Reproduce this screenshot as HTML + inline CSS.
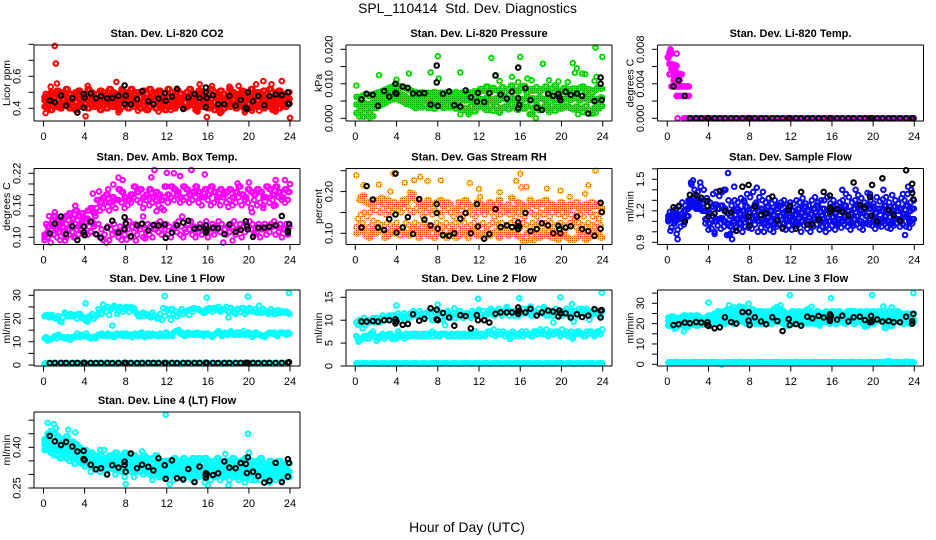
<!DOCTYPE html>
<html lang="en">
<head>
<meta charset="utf-8">
<title>SPL_110414 Std. Dev. Diagnostics</title>
<style>
html,body{margin:0;padding:0;background:#fff;}
svg{display:block;}
text{font-family:"Liberation Sans",sans-serif;fill:#000;}
.main{font-size:13.9px;}
.ttl{font-size:11px;font-weight:bold;}
.tick{font-size:11px;}
.ylab{font-size:10.5px;}
</style>
</head>
<body>
<svg id="chart" xmlns="http://www.w3.org/2000/svg" width="936" height="540" viewBox="0 0 936 540">
<defs>
<pattern id="ditherGreen" patternUnits="userSpaceOnUse" width="2" height="2"><rect width="2" height="2" fill="#00f400"/><rect width="1" height="1" fill="#00a000"/></pattern>
<pattern id="ditherOrange" patternUnits="userSpaceOnUse" width="2" height="2"><rect width="2" height="2" fill="#ffc800"/><rect width="1" height="1" fill="#f04000"/></pattern>
</defs>
<text class="main" x="467.5" y="13" text-anchor="middle">SPL_110414&#160; Std. Dev. Diagnostics</text>
<text class="main" x="467" y="532" text-anchor="middle">Hour of Day (UTC)</text>
</svg>
<script>
const hoursA=[0.1,0.4,0.7,1.0,1.3,1.6,1.9,2.2,2.5,2.8,3.1,3.4,3.7,4.0,4.3,4.6,4.9,5.2,5.5,5.8,6.1,6.4,6.7,7.0,7.3,7.6,7.9,8.2,8.5,8.8,9.1,9.4,9.7,10.0,10.3,10.6,10.9,11.2,11.5,11.8,12.1,12.4,12.7,13.0,13.3,13.6,13.9,14.2,14.5,14.8,15.1,15.4,15.7,16.0,16.3,16.6,16.9,17.2,17.5,17.8,18.1,18.4,18.7,19.0,19.3,19.6,19.9,20.2,20.5,20.8,21.1,21.4,21.7,22.0,22.3,22.6,22.9,23.2,23.5,23.8];
const hoursB=[0.25,0.55,0.85,1.15,1.45,1.75,2.05,2.35,2.65,2.95,3.25,3.55,3.85,4.15,4.45,4.75,5.05,5.35,5.65,5.95,6.25,6.55,6.85,7.15,7.45,7.75,8.05,8.35,8.65,8.95,9.25,9.55,9.85,10.15,10.45,10.75,11.05,11.35,11.65,11.95,12.25,12.55,12.85,13.15,13.45,13.75,14.05,14.35,14.65,14.95,15.25,15.55,15.85,16.15,16.45,16.75,17.05,17.35,17.65,17.95,18.25,18.55,18.85,19.15,19.45,19.75,20.05,20.35,20.65,20.95,21.25,21.55,21.85,22.15,22.45,22.75,23.05,23.35,23.65,23.95];
const blackHours=[0.6,1.1,1.7,2.2,2.8,3.3,3.9,3.9,4.0,4.6,5.1,5.6,6.2,6.7,7.3,7.9,7.9,8.0,8.5,9.1,9.6,10.2,10.7,11.2,11.8,11.9,12.5,13.0,13.6,14.1,14.7,15.2,15.8,15.8,15.8,15.9,16.5,17.0,17.6,18.1,18.7,19.2,19.7,19.8,19.9,20.4,20.9,21.5,22.0,22.6,23.2,23.8,23.8,23.9];
const xTicks=[0,4,8,12,16,20,24];

/* Li-820 CO2 */
const co2High=[.47,.48,.50,.49,.51,.50,.48,.52,.49,.47,.50,.51,.49,.48,.52,.50,.47,.49,.51,.50,.48,.52,.50,.49,.47,.51,.50,.48,.52,.49,.50,.47,.51,.49,.52,.48,.50,.51,.47,.49,.52,.50,.48,.51,.49,.47,.50,.52,.49,.48,.51,.50,.47,.49,.52,.50,.48,.51,.49,.47,.52,.50,.49,.48,.51,.50,.47,.52,.49,.50,.48,.51,.49,.52,.47,.50,.51,.49,.48,.50];
const co2Mid=[.45,.46,.44,.47,.45,.43,.46,.44,.45,.47,.44,.46,.45,.43,.47,.45,.44,.46,.47,.44,.45,.47,.43,.46,.45,.44,.47,.45,.46,.43,.45,.47,.44,.46,.45,.43,.47,.46,.44,.45,.47,.44,.46,.45,.43,.46,.47,.44,.45,.46,.44,.47,.45,.43,.46,.44,.47,.45,.46,.44,.47,.45,.43,.46,.44,.47,.45,.46,.43,.45,.47,.44,.46,.45,.43,.46,.44,.47,.45,.46];
const co2Low=[.41,.42,.39,.43,.41,.40,.42,.43,.40,.41,.39,.42,.41,.43,.40,.42,.41,.43,.39,.42,.40,.43,.41,.42,.39,.41,.43,.40,.42,.41,.43,.40,.42,.39,.41,.43,.40,.42,.41,.39,.43,.41,.40,.42,.43,.40,.41,.43,.42,.39,.42,.41,.43,.40,.42,.39,.41,.38,.40,.42,.41,.43,.40,.42,.41,.39,.43,.40,.42,.41,.43,.40,.42,.41,.39,.43,.40,.42,.41,.43];
const co2OutHours=[1.1,1.2,1.3,0.7,0.2,4.1,4.3,7.1,7.6,8.6,15.2,16.4,15.9,18.1,19,20.7,21.4,22.2,23.2,24,22.6,19.6,17.2,7.3,9.2,11.2,12.4,15,10.2,20.3,21,0.2];
const co2OutValues=[.79,.68,.555,.535,.37,.35,.54,.565,.52,.52,.55,.54,.345,.535,.54,.55,.57,.55,.57,.34,.38,.375,.37,.375,.385,.38,.39,.38,.39,.385,.385,.49];
const co2Black=[.448,.438,.48,.417,.463,.373,.404,.49,.467,.493,.463,.476,.463,.465,.478,.543,.427,.48,.425,.457,.507,.444,.425,.461,.495,.446,.474,.522,.396,.467,.49,.465,.53,.5,.406,.465,.482,.425,.425,.478,.417,.453,.404,.396,.5,.444,.476,.419,.476,.486,.482,.43,.5,.427];
const co2Ticks=[.4,.5,.6,.7,.8];
const co2Labels=["0.4",null,"0.6",null,null];

/* Li-820 Pressure */
const kpaHigh=[.0062,.0058,.0066,.0070,.0064,.0068,.0072,.0075,.0078,.0082,.0086,.0090,.0093,.0095,.0092,.0090,.0086,.0082,.0078,.0076,.0072,.0075,.0070,.0074,.0072,.0076,.0070,.0074,.0072,.0075,.0072,.0070,.0076,.0072,.0074,.0070,.0075,.0072,.0078,.0074,.0085,.0080,.0092,.0076,.0088,.0082,.0078,.0090,.0076,.0084,.0095,.0082,.0078,.0088,.0094,.0076,.0085,.0080,.0090,.0078,.0084,.0092,.0078,.0086,.0095,.0080,.0076,.0088,.0084,.0078,.0086,.0080,.0088,.0092,.0078,.0084,.0075,.0082,.0090,.0086];
const kpaMid=[.0040,.0036,.0045,.0042,.0038,.0044,.0050,.0056,.0062,.0066,.0070,.0074,.0072,.0076,.0070,.0066,.0060,.0056,.0052,.0055,.0050,.0054,.0052,.0056,.0050,.0054,.0050,.0056,.0052,.0055,.0050,.0054,.0058,.0050,.0056,.0052,.0054,.0058,.0050,.0055,.0056,.0052,.0060,.0055,.0050,.0058,.0054,.0062,.0056,.0052,.0060,.0054,.0058,.0050,.0056,.0062,.0052,.0058,.0054,.0060,.0056,.0052,.0060,.0058,.0054,.0062,.0050,.0056,.0060,.0054,.0058,.0062,.0052,.0056,.0060,.0054,.0058,.0050,.0056,.0060];
const kpaLow=[.0015,.0022,.0005,.0025,.0018,.0006,.0030,.0036,.0040,.0045,.0050,.0056,.0055,.0060,.0052,.0048,.0042,.0040,.0036,.0030,.0036,.0032,.0040,.0030,.0035,.0028,.0040,.0036,.0030,.0038,.0032,.0038,.0028,.0034,.0024,.0030,.0018,.0036,.0020,.0032,.0034,.0030,.0024,.0038,.0022,.0036,.0018,.0030,.0034,.0026,.0040,.0032,.0025,.0036,.0028,.0034,.0012,.0030,.0038,.0024,.0030,.0036,.0025,.0038,.0022,.0034,.0028,.0032,.0036,.0030,.0026,.0034,.0030,.0018,.0036,.0024,.0014,.0032,.0028,.0036];
const kpaOutHours=[.1,2.3,4.0,5.2,7.3,8.0,8.1,10.2,13.2,13.6,14,15.2,15.8,16,16.7,17.1,18.2,18.8,19.7,20.6,21.1,21.3,21.5,22,22.3,23.2,23.3,23.4,23.95,.4,1.4,17.5,17.2,18.8,21.6,10.2,11,23.3,14];
const kpaOutValues=[.0095,.0125,.0112,.013,.0133,.018,.0115,.0133,.0175,.0125,.0108,.012,.0105,.0178,.0115,.011,.0158,.011,.0107,.0105,.016,.0132,.0145,.013,.0128,.0108,.0205,.012,.0178,.0005,.0003,.0001,.0015,.0018,.0012,.0012,.0012,.0015,.0016];
const kpaBlack=[.0055,.0071,.0068,.0036,.0079,.0063,.01,.0074,.0071,.0092,.0088,.0072,.0072,.0073,.004,.0153,.0104,.0036,.0071,.0078,.0038,.0034,.0081,.0061,.0048,.0074,.0047,.0073,.0124,.0069,.0057,.0077,.0147,.0058,.0029,.0039,.0087,.0053,.0031,.0024,.0071,.0065,.0071,.0061,.0053,.0077,.0068,.0072,.0065,.0014,.005,.0118,.01,.0053];
const kpaTicks=[0,.005,.01,.015,.02];
const kpaLabels=["0.000",null,"0.010",null,"0.020"];

/* Li-820 Temperature */
const tempZeroA=[null,null,null,0,null,0,0,0,0,0,0,0,0,0,0,0,0,0,0,0,0,0,0,0,0,0,0,0,0,0,0,0,0,0,0,0,0,0,0,0,0,0,0,0,0,0,0,0,0,0,0,0,0,0,0,0,0,0,0,0,0,0,0,0,0,0,0,0,0,0,0,0,0,0,0,0,0,0,0,0];
const tempZeroB=[null,null,null,null,null,0,0,0,0,0,0,0,0,0,0,0,0,0,0,0,0,0,0,0,0,0,0,0,0,0,0,0,0,0,0,0,0,0,0,0,0,0,0,0,0,0,0,0,0,0,0,0,0,0,0,0,0,0,0,0,0,0,0,0,0,0,0,0,0,0,0,0,0,0,0,0,0,0,0,0];
const tempOutHours=[.3,.35,.2,.25,.15,.1,.45,.9,.05,.2,.4,.5,.6,.7,.8,.9,.4,.5,.6,.7,.8,.2,.3,.6,.7,.9,1.0,1.1,1.2,1.3,1.4,.6,.7,.8,.9,1.0,1.1,1.2,.4,.6,.8,.9,1.0,1.1,1.2,1.3,1.4,1.5,1.6,1.7,1.8,1.9,2.0,2.1,.9,1.0,1.2,1.4,1.6,1.8,2.0,2.1];
const tempOutValues=[.008,.0078,.0076,.0074,.0072,.007,.0075,.0075,.0071,.0063,.0063,.0062,.0062,.0062,.0061,.0061,.0057,.0057,.0057,.0056,.0056,.0051,.0051,.0051,.0051,.0051,.0051,.0051,.0051,.0051,.0051,.0044,.0044,.0044,.0044,.0044,.0044,.0044,.0037,.0037,.0037,.0037,.0037,.0037,.0037,.0037,.0037,.0037,.0037,.0037,.0037,.0037,.0037,.0037,.0026,.0026,.0026,.0026,.0026,.0026,.0026,.0026];
const tempBlack=[.0037,.0044,.0026,0,0,0,0,0,0,0,0,0,0,0,0,0,0,0,0,0,0,0,0,0,0,0,0,0,0,0,0,0,0,0,0,0,0,0,0,0,0,0,0,0,0,0,0,0,0,0,0,0,0,0];
const tempTicks=[0,.002,.004,.006,.008];
const tempLabels=["0.000",null,"0.004",null,"0.008"];

/* Ambient Box Temperature */
const ambTop=[.105,.12,.125,.14,.13,.125,.135,.14,.145,.135,.15,.14,.145,.135,.15,.155,.145,.17,.165,.175,.18,.165,.175,.17,.19,.185,.175,.17,.18,.195,.185,.19,.175,.18,.19,.175,.185,.18,.17,.195,.18,.195,.19,.185,.175,.195,.19,.18,.185,.195,.185,.175,.19,.18,.195,.185,.175,.19,.18,.185,.19,.175,.185,.195,.18,.175,.19,.185,.18,.19,.185,.175,.195,.19,.18,.195,.185,.175,.19,.185];
const ambUpper=[.10,.11,.105,.12,.115,.11,.12,.125,.115,.12,.125,.12,.13,.12,.135,.13,.125,.155,.15,.155,.165,.15,.16,.155,.17,.165,.155,.16,.165,.175,.17,.165,.155,.17,.16,.165,.17,.16,.155,.175,.165,.175,.17,.18,.165,.17,.175,.165,.17,.175,.165,.16,.175,.17,.16,.165,.17,.16,.175,.165,.17,.16,.165,.175,.16,.17,.165,.155,.17,.16,.165,.16,.175,.165,.17,.16,.175,.17,.165,.17];
const ambLower=[.125,.14,.13,.115,.12,.13,.105,.115,.125,.10,.115,.125,.135,.13,.12,.13,.14,.125,.115,.105,.12,.115,.125,.11,.12,.115,.125,.13,.12,.125,.12,.125,.115,.125,.12,.115,.125,.13,.12,.125,.12,.115,.125,.13,.12,.115,.125,.13,.12,.115,.125,.12,.13,.115,.125,.12,.13,.125,.115,.12,.125,.13,.115,.125,.12,.125,.13,.125,.115,.125,.115,.125,.12,.125,.13,.12,.125,.115,.125,.12];
const ambBottom=[.095,.10,.09,.105,.10,.095,.11,.10,.105,.11,.10,.105,.115,.11,.105,.11,.12,.105,.10,.095,.09,.095,.105,.11,.10,.095,.105,.115,.10,.11,.105,.115,.10,.11,.105,.10,.115,.11,.105,.115,.105,.10,.115,.11,.105,.10,.11,.115,.105,.10,.11,.105,.115,.10,.11,.105,.115,.11,.09,.105,.11,.12,.105,.115,.10,.11,.12,.115,.105,.11,.10,.115,.105,.11,.12,.105,.11,.10,.115,.105];
const ambOutHours=[7.3,7.7,6.8,6.3,4.8,5.4,10.8,10.5,12,12.7,13.3,14.4,15.7,18.9,20,22.6,23.5,24,20.3,21.4,22.4,18,11,11.7,9.7,13.5,3.1,1.1,18.4,9,2.1,8.1,9.9];
const ambOutValues=[.212,.2075,.199,.19,.182,.186,.226,.2125,.221,.22,.215,.226,.218,.201,.203,.2075,.2075,.2,.147,.155,.159,.157,.149,.151,.139,.139,.159,.147,.094,.094,.094,.096,.098];
const ambBlack=[.1075,.1256,.139,.106,.121,.095,.109,.12,.104,.129,.106,.099,.118,.131,.109,.1375,.115,.126,.102,.1225,.1256,.1125,.123,.122,.124,.099,.109,.1225,.1275,.131,.116,.118,.1225,.109,.113,.115,.118,.117,.106,.124,.11,.114,.13,.121,.115,.101,.118,.118,.12,.1225,.14,.1125,.109,.125];
const ambTicks=[.10,.12,.14,.16,.18,.20,.22];
const ambLabels=["0.10",null,null,"0.16",null,null,"0.22"];

/* Gas Stream RH */
const rhBottom=[.10,.105,.11,.095,.09,.105,.10,.11,.105,.09,.095,.105,.10,.11,.095,.105,.10,.095,.11,.105,.09,.10,.105,.095,.11,.09,.10,.105,.095,.09,.10,.105,.09,.095,.105,.10,.09,.105,.11,.095,.10,.09,.105,.095,.10,.105,.09,.10,.105,.095,.10,.105,.095,.09,.08,.10,.085,.105,.095,.09,.10,.095,.105,.09,.10,.085,.095,.105,.09,.085,.085,.09,.105,.095,.085,.09,.105,.095,.10,.09];
const rhLower=[.115,.12,.125,.11,.115,.12,.11,.125,.12,.115,.125,.12,.115,.125,.11,.115,.125,.12,.11,.125,.12,.115,.125,.12,.115,.11,.125,.12,.115,.125,.115,.12,.125,.11,.12,.125,.115,.12,.125,.115,.12,.125,.115,.12,.125,.13,.12,.125,.115,.12,.125,.13,.12,.115,.125,.12,.115,.125,.12,.125,.115,.125,.12,.125,.115,.12,.125,.12,.115,.125,.12,.115,.125,.12,.115,.125,.12,.115,.125,.12];
const rhUpper=[.135,.145,.15,.14,.15,.13,.155,.15,.16,.145,.155,.15,.16,.155,.15,.16,.165,.155,.15,.16,.155,.14,.15,.16,.145,.155,.15,.14,.155,.16,.15,.14,.155,.145,.14,.16,.15,.145,.14,.15,.155,.145,.16,.15,.14,.155,.145,.15,.155,.145,.155,.14,.15,.145,.14,.155,.15,.145,.14,.15,.145,.155,.14,.15,.155,.145,.15,.14,.155,.145,.135,.15,.145,.14,.155,.15,.14,.145,.135,.15];
const rhTop=[null,.18,.19,.175,.17,.165,.18,.175,.185,.17,.18,.165,.175,.165,.17,.18,.175,.185,.195,.18,.175,.17,.165,.18,.17,null,.175,.18,.165,.175,.17,null,.16,.175,.165,.18,.17,.165,.16,.175,.17,.16,.165,.175,.16,.17,.18,.165,.16,.17,.185,.16,.175,.17,.16,.165,.18,.17,.165,.175,.17,.18,.16,.17,.165,.16,.175,.165,.16,.17,.165,.175,.16,.165,.17,.16,.175,.165,.17,.16];
const rhOutHours=[.1,.8,2.3,3.7,4.8,5.7,6.3,7,8.3,11.1,12,12.1,14,15.6,16,16.1,16.6,18.6,19.9,20.8,22.6,23.3,22.3,17.3,3.4,5.3,.5];
const rhOutValues=[.239,.215,.217,.243,.221,.227,.235,.225,.227,.22,.206,.187,.199,.225,.243,.21,.211,.207,.202,.187,.215,.25,.195,.083,.2,.198,.187];
const rhBlack=[.114,.213,.181,.114,.108,.134,.145,.243,.102,.114,.139,.098,.182,.133,.119,.17,.149,.111,.096,.094,.1,.135,.149,.1,.17,.116,.087,.098,.158,.115,.119,.115,.126,.117,.11,.116,.149,.105,.11,.124,.119,.1,.118,.11,.1,.114,.117,.14,.11,.105,.094,.173,.111,.151];
const rhTicks=[.10,.15,.20,.25];
const rhLabels=["0.10",null,"0.20",null];

/* Sample Flow */
const flowA=[1.19,1.2,1.22,1.25,1.28,1.25,1.3,1.45,1.4,1.38,1.43,1.4,1.32,1.28,1.36,1.38,1.34,1.38,1.4,1.3,1.25,1.3,1.28,1.32,1.3,1.36,1.33,1.38,1.28,1.33,1.3,1.28,1.32,1.27,1.3,1.25,1.28,1.3,1.26,1.28,1.27,1.3,1.28,1.32,1.27,1.25,1.3,1.33,1.28,1.3,1.3,1.33,1.27,1.3,1.25,1.28,1.3,1.36,1.33,1.28,1.3,1.35,1.32,1.28,1.37,1.3,1.27,1.33,1.29,1.31,1.33,1.28,1.35,1.3,1.27,1.32,1.3,1.36,1.28,1.3];
const flowB=[1.15,1.16,1.18,1.14,1.17,1.2,1.22,1.3,1.33,1.28,1.3,1.27,1.2,1.18,1.24,1.26,1.22,1.25,1.22,1.18,1.15,1.2,1.22,1.17,1.2,1.24,1.18,1.22,1.26,1.2,1.22,1.18,1.24,1.2,1.16,1.22,1.25,1.18,1.2,1.24,1.2,1.16,1.22,1.18,1.24,1.2,1.17,1.22,1.25,1.19,1.22,1.17,1.2,1.24,1.18,1.22,1.2,1.25,1.2,1.17,1.22,1.26,1.2,1.18,1.25,1.22,1.24,1.18,1.22,1.2,1.25,1.2,1.18,1.24,1.2,1.22,1.17,1.25,1.2,1.22];
const flowC=[1.12,1.13,1.1,1.12,1.14,1.12,1.15,1.24,1.26,1.22,1.22,1.2,1.12,1.08,1.15,1.1,1.12,1.13,1.1,1.08,1.05,1.1,1.12,1.08,1.12,1.14,1.1,1.13,1.15,1.1,1.12,1.08,1.14,1.1,1.07,1.12,1.15,1.08,1.12,1.14,1.1,1.08,1.13,1.1,1.15,1.1,1.08,1.13,1.15,1.1,1.12,1.06,1.1,1.14,1.08,1.12,1.1,1.15,1.1,1.08,1.12,1.15,1.1,1.08,1.15,1.12,1.14,1.08,1.12,1.1,1.15,1.1,1.08,1.13,1.12,1.1,1.14,1.15,1.1,1.12];
const flowD=[1.1,1.04,1.08,1.02,1.05,1.07,null,null,null,null,null,null,1.08,1.02,1.03,1.0,1.06,1.03,1.05,.97,.98,1.02,1.04,1.03,1.0,1.05,1.04,1.03,1.07,1.0,1.04,1.0,1.06,1.02,1.0,1.05,1.07,1.03,1.02,1.06,1.02,1.05,1.07,1.0,1.06,1.03,1.0,1.05,1.07,1.02,1.05,1.0,1.03,1.06,1.02,1.07,1.04,1.07,1.05,1.02,1.06,1.07,1.04,1.02,1.08,1.07,1.06,1.03,1.06,1.05,1.08,1.04,1.03,1.06,1.08,1.05,1.07,1.05,1.04,1.08];
const flowOutHours=[5.9,8.7,9.3,1,6.3,6,4.6,.3,.9,23.1,23.7,23.4,6.5,5.5,17,18.3,21,22.9,19.7,7.5,2.5,2.3,3.2];
const flowOutValues=[1.56,1.42,1.38,.93,.93,.97,.98,1.01,.98,.97,1.4,1.43,1.43,1.4,1.4,1.4,1.4,1.36,1.36,1.28,1.49,1.47,1.47];
const flowBlack=[1.234,1.24,1.095,1.352,1.35,1.324,1.293,1.246,1.144,1.175,1.39,1.197,1.185,1.01,1.43,1.447,1.145,1.06,1.24,1.157,1.175,1.336,1.107,1.04,1.206,1.246,1.03,1.38,1.07,1.07,1.116,1.38,1.345,1.23,1.19,1.215,1.215,1.19,1.155,1.47,1.256,1.23,1.33,1.155,1.447,1.1,1.51,1.21,1.16,1.107,1.586,1.457,1.37,1.31];
const flowTicks=[.9,1.0,1.1,1.2,1.3,1.4,1.5,1.6];
const flowLabels=["0.9",null,null,"1.2",null,null,"1.5",null];

/* Line 1 Flow */
const line1Base=[.4,.8,.9,.8,.8,.9,.8,.8,.9,.8,.9,.8,.8,.9,.8,.8,.8,.9,.8,.8,.9,.8,.8,.9,.8,.8,.9,.8,.8,.9,.8,.9,.8,.8,.9,.8,.8,.9,.8,.8,.9,.8,.8,.9,.8,.8,.9,.8,.9,.8,.8,.9,.8,.8,.9,.8,.8,.9,.8,.9,.8,.8,.9,.8,.8,.9,.8,.9,.8,.8,.9,.8,.8,.9,.8,.8,.9,.8,.9,.8];
const line1MidA=[11.5,10.5,11,12,11.5,12.5,12,11.5,11,12,12,12.5,13,12.5,12,11.5,12,12.5,13,12.5,13,12.5,13,12.5,13,13.5,13,12.5,13,13,13,13.5,13,12.5,13,13.5,13,12.5,13,13.5,12.5,13,14,14.5,13.5,13,13.5,13,13.5,13.5,13,13.5,13,13.5,12.5,13,14,13.5,13,13.5,14,13.5,13,14,13.5,13,14,13.5,13,13.5,13,12.5,13,14,13.5,13,13.5,14,13.5,14];
const line1MidB=[12,11,11.5,12.5,13,12,11.5,12,11,12,13.5,12,12.5,13.5,12,12,11.5,13,13.5,12.5,13.5,12.5,12,13.5,13,12.5,13.5,13,12,13.5,12.5,14,12,13.5,12.5,13,12.5,13.5,12.5,14,13,12.5,14.5,15,14,12.5,14,13.5,13,14,13.5,12.5,13.5,13,12,13.5,14.5,12.5,14,13,14.5,13,14,13,14.5,13.5,13,12,14,13,12.5,12,13.5,13.5,14,12.5,14,13.5,13,13.5];
const line1TopA=[21,21.5,21,20.5,20,19,20.5,22,21.5,21,21.5,22,21,20.5,20,21,20,21.5,23,24,23,21.5,24.5,25,23,24.5,24,24.5,25,24.5,22,21,22.5,22,21,22.5,21,20,19.5,21,23.5,24,22,21,23,22,23,21.5,23,24,24,23,22.5,23.5,24,24.5,24,23,24,25,23,23.5,22,24,24.5,22,23,24,23,22.5,23.5,24,23,22.5,23,22,23.5,23,22.5,22.5];
const line1TopB=[21.5,20.5,21.5,20,21,18.5,22.5,21,22,21.5,20,22,20,19,21,22,21,24,22,24.5,25,24,25.5,22,25,23,25,23,24,23,21,22,21,21.5,20.5,21.5,20,22,24.5,24,22,24,23,22,24,23,23.5,24,24.5,24,23.5,22.5,24,24.5,23,24,25,23.5,24,23,24.5,22.5,24,23,24.5,23,24.5,23,24,23.5,22.5,23,22,24,22,23.5,22.5,23,23,22];
const line1OutHours=[4.1,4.3,5.8,6.7,11.8,12.4,15.9,19.9,18,21,23.9,.2];
const line1OutValues=[26.5,18.7,26,17,29.7,19.5,29,29.5,20.5,25.5,31,.8];
const line1Black=[.8,.9,.9,.9,.8,.9,.9,.9,.9,.9,.8,.9,.9,.8,.9,.9,.9,.9,.9,.8,.9,.9,.9,.9,.9,.9,.9,.8,.9,.9,.9,.9,.9,.9,.9,.9,.9,.8,.9,.9,.9,.9,.9,.9,.9,.9,.8,.9,.9,.9,.9,1.0,1.0,1.2];
const line1Ticks=[0,5,10,15,20,25,30];
const line1Labels=["0",null,"10",null,"20",null,"30"];

/* Line 2 Flow */
const line2Base=[.6,.5,.6,.6,.5,.6,.6,.5,.6,.6,.5,.6,.6,.6,.5,.6,.6,.5,.6,.6,.5,.6,.6,.5,.6,.6,.6,.5,.6,.6,.5,.6,.6,.5,.6,.6,.6,.5,.6,.6,.5,.6,.6,.5,.6,.6,.6,.5,.6,.6,.5,.6,.6,.5,.6,.6,.6,.5,.6,.6,.5,.6,.6,.5,.6,.6,.6,.5,.6,.6,.5,.6,.6,.5,.6,.6,.6,.5,.6,.6];
const line2MidA=[6.5,5.5,6,6.5,6,7,6.5,6,6.5,6,6.5,7,6.5,6,7,6.5,7,6.5,6.5,7,7,6.5,6.5,7,7,6.5,7,6.5,7,7,6.5,7,6.5,7,6.5,7,6.5,7,6.5,7,6.5,7,7,7.5,7,6.5,7.5,7,6.5,7,7,6.5,7,7,6.5,7.5,7,6.5,7.5,7,7.5,7,6.5,7.5,7,7.5,6.5,7,7.5,7,6.5,7,7.5,7,6.5,7,7.5,6.5,7.5,7];
const line2MidB=[6,6,6.5,6,7,6.5,5.5,6.5,7,6.5,7,6.5,6,7.5,6.5,6,6.5,7,7,6.5,6.5,7,7,6.5,7.5,7,6.5,7,7,6.5,7,6.5,7,6.5,7,6.5,7,6.5,7.5,6.5,7,6.5,7.5,7,8,7,7,7.5,7,6.5,7.5,7,6.5,7.5,7,7,6.5,7.5,7,8,7,8,7,7,7.5,7,8,7,6.5,7.5,7,7.5,7,6.5,7.5,7.5,7,7,7.5,8];
const line2UpA=[9.5,10,9.5,9,9.5,10,9.5,10,10.5,10,10.5,10,11,10.5,11,10.5,11,10.5,11,11.5,11,11.5,10.5,11,11.5,10,11,11.5,10,11,11.5,11,10.5,11,11.5,11,11.5,10.5,11.5,11,11.5,12,11,11.5,12,11.5,12.5,11,11.5,12,12,11,11.5,12,12.5,11.5,12,11,12,12.5,11.5,12,11,12,11.5,11,12,11.5,12.5,11,11.5,12,12.5,11.5,12,11.5,11,12,11.5,11];
const line2UpB=[9,10,10.5,10,10,10.5,10.5,9.5,11,10.5,11,11,10.5,11.5,10,11.5,10.5,11.5,12,11,12,10.5,11.5,12,10,11.5,12,10.5,11.5,12,10.5,11.5,11.5,12,10.5,11.5,11,12,11,12,10.5,11,12,12.5,11,12,11.5,12,12.5,11,11.5,12,11,11.5,11.5,12.5,11,12,11.5,11.5,12.5,11,12,11,12.5,12,11,12,11.5,12,12,11,11.5,12,12.5,11,12,11.5,11,12];
const line2OutHours=[4,8,11.9,12,15.9,19.9,23.9,8.7,9.6,19.2,21.2,22.7,.3,.1,.7,1.7,3.6,15,21.1,14.7,17,18.3,21,22];
const line2OutValues=[13.2,13.4,14.7,12.3,14.8,15,16,8.9,12.6,9.5,9.7,10.1,5.3,6.5,8.2,7.5,5.9,5.9,6,12.9,13,12.9,13.5,12.5];
const line2Black=[9.7,9.7,9.8,9.7,10,10,10.2,9.3,9.7,9,9.2,11.3,9.9,10.3,12.6,12.3,10.2,10,11.6,10.6,8.8,11.1,10.9,8.2,11.1,10,10,9.5,11.4,11.7,11.7,11.7,12.8,11.9,11.4,12.1,11.7,12.5,11,11.7,12.1,11.9,10.8,12.1,11.5,11.5,10.6,11.3,10.7,11,12.4,12.1,10.6,12.2];
const line2Ticks=[0,5,10,15];
const line2Labels=["0","5","10","15"];

/* Line 3 Flow */
const line3Base=[1,1,1.2,1,1,1.1,1,1,1.2,1,1,1.1,1,1,1.2,1,1,.8,1,1,1.1,1,1,1.2,1,1,1.1,1,1,1.2,1,1,1.1,1,1,1.2,1,1,1.1,1,1,1.2,1,1,1.1,1,1,1.2,1,1,1.1,1,1,1.2,1,1,1.1,1,1,1.2,1,1,1.1,1,1,1.2,1,1,1.1,1,1.2,1.5,1,1,1.1,1,1,1.4,1,1];
const line3A=[23,23.5,23,22,23,24,23.5,24,23,24,23,22.5,23,24,23,25,26,25,26,27,27,26,27,28,27,26,26,27,25,26,26,25,26,25,27,28,27,26,25,25,26,25,26,25,26,27,25,24,26,25,25,26,25,26,25,26,25,24,26,26,26,25,26,25,26,24,26,25,26,24,25,26,24,25,26,25,24,25,24,25];
const line3B=[21,22,21,22,21,22,21.5,22,21,22,21,20,22,21,22,23,24,23,22,24,24,23,24,25,24,23,22,23,22,23,22,23,24,23,24,25,24,22,23,24,22,23,24,23,22,24,22,23,24,22,24,23,22,24,22,23,24,22,23,24,23,22,24,23,22,23,24,22,23,23,23,22,23,24,22,24,23,22,23,22];
const line3C=[19,19.5,18,19,20,19,18.5,20,19.5,19,20,19.5,20,19,20,21,22,20,20,21,21,20,21,22,21,20,20,21,20,20,20,21,22,20,21,21,21,20,19,20,20,21,21,20,21,20,21,20,21,20,21,22,20,21,20,21,22,20,21,21,20,21,22,20,19,21,20,21,22,21,18,20,19,21,22,21,20,21,20,21];
const line3OutHours=[4,7.9,11.9,15.9,19.9,23.9,1.6,.2,.7,6,6.5,7,7.4,10.6,11,14,21,21.8,21.2,19.2,14.8,5.3];
const line3OutValues=[30.3,29.8,34,32.5,34,35,16.2,19,17.5,29,28,28.5,28,28,29,28.3,28.5,28,18,18.5,19,-.2];
const line3Black=[19.3,19.7,20.5,20.2,20.8,20.5,20.7,19.3,18.9,17.7,18.2,23.1,20.8,20,25.7,25.6,21.5,19.3,23.1,21.1,19.7,23.1,21.3,16.4,22.3,19.3,19.8,19,23.4,22.6,23.8,23,24.6,22.3,21.3,23.8,22,23.9,21.1,23.1,23.4,21.8,20.7,23.8,21.1,22.1,21,21.3,20.7,20.7,23.4,21.3,20,24.8];
const line3Ticks=[0,5,10,15,20,25,30,35];
const line3Labels=["0",null,"10",null,"20",null,"30",null];

/* Line 4 (LT) Flow */
const line4A=[.43,.45,.46,.45,.44,.43,.42,.44,.42,.42,.41,.40,.38,.39,.37,.38,.37,.36,.37,.36,.36,.37,.36,.38,.37,.36,.38,.37,.36,.37,.36,.35,.37,.36,.35,.36,.37,.35,.34,.35,.35,.34,.36,.35,.34,.36,.35,.34,.36,.35,.36,.34,.36,.35,.33,.35,.36,.34,.33,.35,.34,.36,.35,.33,.35,.36,.34,.35,.33,.35,.36,.34,.33,.35,.34,.33,.35,.34,.33,.34];
const line4B=[.41,.43,.40,.42,.39,.41,.40,.38,.40,.39,.38,.37,.36,.37,.35,.36,.35,.34,.35,.35,.34,.35,.34,.35,.34,.35,.34,.35,.33,.35,.34,.33,.35,.33,.32,.34,.33,.32,.31,.33,.32,.33,.32,.33,.32,.33,.32,.31,.33,.32,.33,.32,.31,.33,.32,.31,.33,.32,.31,.33,.32,.33,.31,.32,.33,.31,.33,.32,.31,.32,.33,.31,.32,.33,.31,.32,.31,.33,.32,.31];
const line4C=[.39,.40,.38,.39,.37,.36,.38,.36,.37,.36,.36,.35,.34,.35,.34,.33,.34,.32,.33,.34,.32,.33,.32,.33,.32,.33,.31,.33,.32,.31,.32,.31,.33,.31,.32,.30,.31,.30,.29,.31,.30,.31,.30,.31,.30,.29,.31,.30,.31,.29,.31,.30,.29,.31,.30,.29,.31,.30,.29,.31,.30,.31,.29,.30,.31,.29,.30,.31,.28,.30,.31,.29,.30,.31,.29,.30,.29,.31,.30,.29];
const line4D=[.42,.39,.42,.37,.41,.39,.37,.39,.35,.39,.34,.38,.35,.33,.36,.31,.33,.35,.31,.33,.30,.35,.32,.30,.33,.31,.29,.35,.31,.29,.31,.33,.30,.32,.30,.28,.33,.29,.31,.29,.29,.31,.28,.30,.29,.28,.31,.29,.28,.30,.29,.31,.27,.32,.28,.31,.29,.28,.30,.29,.28,.29,.30,.28,.29,.27,.30,.28,.30,.29,.28,.30,.28,.27,.30,.28,.31,.28,.29,.30];
const line4OutHours=[.4,1,1.2,2.4,3.1,11.9,19.9,5.5,5.9,9.6,3,17.7,18,20,16,8,12.3];
const line4OutValues=[.49,.485,.47,.465,.455,.52,.45,.39,.39,.385,.34,.375,.26,.38,.26,.265,.265];
const line4Black=[.442,.422,.408,.42,.403,.385,.387,.357,.353,.336,.319,.323,.30,.334,.325,.347,.335,.31,.377,.323,.336,.328,.315,.36,.334,.284,.352,.286,.282,.32,.272,.329,.304,.297,.288,.302,.298,.304,.348,.325,.323,.342,.339,.305,.363,.31,.294,.27,.277,.343,.272,.356,.292,.343];
const line4Ticks=[.25,.30,.35,.40,.45,.50];
const line4Labels=["0.25",null,null,"0.40",null,null];

const NS='http://www.w3.org/2000/svg';
const svg=document.getElementById('chart');
const BOX_W=266, BOX_H=76;

/* frame: [left, top, x-of-hour-0, x-of-hour-24], y scale anchors: [v0, px0, v1, px1] */
const panels=[
 {title:'Stan. Dev. Li-820 CO2',ylab:'Licor ppm',frame:[34,45,43.5,290],anch:[.4,108.3,.7,60.3],stroke:'#ff0000',
  rows:[[hoursA,co2Low],[hoursB,co2Low],[hoursB,co2Mid],[hoursA,co2Mid],[hoursB,co2High],[hoursA,co2High]],oh:co2OutHours,ov:co2OutValues,black:co2Black,ticks:co2Ticks,labels:co2Labels},
 {title:'Stan. Dev. Li-820 Pressure',ylab:'kPa',frame:[346,45,355.3,602.7],anch:[0,118.3,.02,49.3],stroke:'url(#ditherGreen)',
  rows:[[hoursA,kpaLow],[hoursB,kpaLow],[hoursB,kpaMid],[hoursA,kpaMid],[hoursB,kpaHigh],[hoursA,kpaHigh]],oh:kpaOutHours,ov:kpaOutValues,black:kpaBlack,ticks:kpaTicks,labels:kpaLabels},
 {title:'Stan. Dev. Li-820 Temp.',ylab:'degrees C',frame:[657.5,45,667.3,914.3],anch:[0,118.3,.008,49.3],stroke:'#ff00ff',
  rows:[[hoursA,tempZeroA],[hoursB,tempZeroB]],oh:tempOutHours,ov:tempOutValues,black:tempBlack,ticks:tempTicks,labels:tempLabels},
 {title:'Stan. Dev. Amb. Box Temp.',ylab:'degrees C',frame:[34,168.5,43.5,290],anch:[.1,237.3,.22,173.3],stroke:'#ff00ff',
  rows:[[hoursA,ambBottom],[hoursB,ambLower],[hoursA,ambUpper],[hoursB,ambTop],[hoursA,ambTop]],oh:ambOutHours,ov:ambOutValues,black:ambBlack,ticks:ambTicks,labels:ambLabels},
 {title:'Stan. Dev. Gas Stream RH',ylab:'percent',frame:[346,168.5,355.3,602.7],anch:[.1,233.3,.25,170.7],stroke:'url(#ditherOrange)',
  rows:[[hoursA,rhBottom],[hoursB,rhBottom],[hoursA,rhLower],[hoursB,rhUpper],[hoursA,rhTop],[hoursB,rhTop]],oh:rhOutHours,ov:rhOutValues,black:rhBlack,ticks:rhTicks,labels:rhLabels},
 {title:'Stan. Dev. Sample Flow',ylab:'ml/min',frame:[657.5,168.5,667.3,914.3],anch:[.9,242.3,1.5,179.3],stroke:'#0a0aee',
  rows:[[hoursA,flowD],[hoursB,flowC],[hoursA,flowC],[hoursB,flowB],[hoursA,flowB],[hoursB,flowA]],oh:flowOutHours,ov:flowOutValues,black:flowBlack,ticks:flowTicks,labels:flowLabels},
 {title:'Stan. Dev. Line 1 Flow',ylab:'ml/min',frame:[34,290,43.5,290],anch:[0,365,30,295.3],stroke:'#00ffff',
  rows:[[hoursA,line1Base],[hoursA,line1MidA],[hoursB,line1MidB],[hoursA,line1TopA],[hoursB,line1TopB]],oh:line1OutHours,ov:line1OutValues,black:line1Black,ticks:line1Ticks,labels:line1Labels},
 {title:'Stan. Dev. Line 2 Flow',ylab:'ml/min',frame:[346,290,355.3,602.7],anch:[0,366,15,297.3],stroke:'#00ffff',
  rows:[[hoursA,line2Base],[hoursB,line2Base],[hoursA,line2MidA],[hoursB,line2MidB],[hoursA,line2UpA],[hoursB,line2UpB]],oh:line2OutHours,ov:line2OutValues,black:line2Black,ticks:line2Ticks,labels:line2Labels},
 {title:'Stan. Dev. Line 3 Flow',ylab:'ml/min',frame:[657.5,290,667.3,914.3],anch:[0,364.3,30,303.3],stroke:'#00ffff',
  rows:[[hoursA,line3Base],[hoursB,line3Base],[hoursA,line3C],[hoursB,line3C],[hoursB,line3B],[hoursA,line3B],[hoursB,line3A],[hoursA,line3A]],oh:line3OutHours,ov:line3OutValues,black:line3Black,ticks:line3Ticks,labels:line3Labels},
 {title:'Stan. Dev. Line 4 (LT) Flow',ylab:'ml/min',frame:[34,412,43.5,290],anch:[.25,488,.4,447.3],stroke:'#00ffff',
  rows:[[hoursA,line4D],[hoursB,line4C],[hoursA,line4C],[hoursB,line4B],[hoursA,line4B],[hoursB,line4A],[hoursA,line4A]],oh:line4OutHours,ov:line4OutValues,black:line4Black,ticks:line4Ticks,labels:line4Labels}
];

function addLine(parent,x1,y1,x2,y2){
  const el=document.createElementNS(NS,'line');
  
  
  el.setAttribute('x1',x1);el.setAttribute('y1',y1);el.setAttribute('x2',x2);el.setAttribute('y2',y2);
  el.setAttribute('stroke','#000');el.setAttribute('stroke-width','1');
  parent.appendChild(el);
}
function addPoint(parent,x,y,stroke){
  const el=document.createElementNS(NS,'circle');
  
  
  el.setAttribute('cx',x.toFixed(1));el.setAttribute('cy',y.toFixed(1));el.setAttribute('r','2.3');
  el.setAttribute('fill','none');el.setAttribute('stroke',stroke);el.setAttribute('stroke-width','2');
  parent.appendChild(el);
}
function addText(parent,cls,x,y,str,rot){
  const el=document.createElementNS(NS,'text');
  
  
  el.setAttribute('class',cls);
  el.setAttribute('x',x);el.setAttribute('y',y);
  el.setAttribute('text-anchor','middle');
  el.setAttribute('dominant-baseline','central');
  if(rot){el.setAttribute('transform','rotate(-90 '+x+' '+y+')');}
  el.textContent=str;
  parent.appendChild(el);
}

panels.forEach(function(p){
  const left=p.frame[0],top=p.frame[1],bottom=top+BOX_H,right=left+BOX_W;
  const xAxis=function(h){return p.frame[2]+h*(p.frame[3]-p.frame[2])/24;};
  const yAxis=function(v){return p.anch[1]+(v-p.anch[0])*(p.anch[3]-p.anch[1])/(p.anch[2]-p.anch[0]);};
  const g=document.createElementNS(NS,'g');
  
  
  svg.appendChild(g);
  p.rows.forEach(function(row){
    const hrs=row[0],vals=row[1];
    for(let i=0;i<vals.length&&i<hrs.length;i++){
      if(vals[i]===null){continue;}
      addPoint(g,xAxis(hrs[i]),yAxis(vals[i]),p.stroke);
    }
  });
  p.ov.forEach(function(v,i){addPoint(g,xAxis(p.oh[i]),yAxis(v),p.stroke);});
  p.black.forEach(function(v,i){addPoint(g,xAxis(blackHours[i]),yAxis(v),'#000');});
  addLine(g,left,top,right,top);
  addLine(g,right,top,right,bottom);
  addLine(g,left,bottom,right,bottom);
  addLine(g,left,top,left,bottom);
  xTicks.forEach(function(t){
    addLine(g,xAxis(t),bottom,xAxis(t),bottom+5.5);
    addText(g,'tick',xAxis(t),bottom+16,String(t),false);
  });
  p.ticks.forEach(function(t,i){
    addLine(g,left-5.5,yAxis(t),left,yAxis(t));
    if(p.labels[i]!==null){addText(g,'tick',left-16.5,yAxis(t),p.labels[i],true);}
  });
  addText(g,'ttl',left+BOX_W/2,top-11,p.title,false);
  addText(g,'ylab',left-27,top+BOX_H/2,p.ylab,true);
});
</script>
</body>
</html>
